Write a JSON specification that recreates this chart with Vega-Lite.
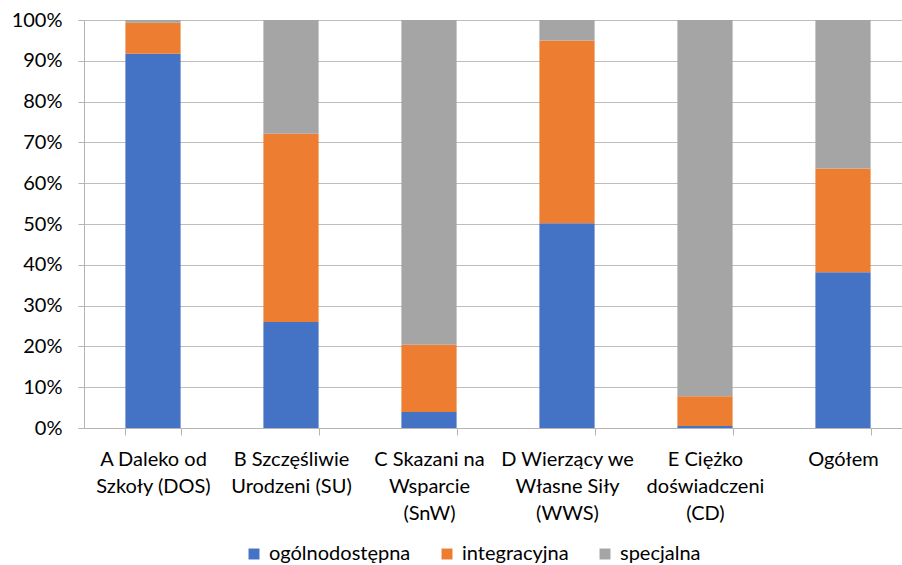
{
  "$schema": "https://vega.github.io/schema/vega-lite/v6.json",
  "autosize": "none",
  "padding": {"left": 84, "top": 20, "right": 0, "bottom": 137},
  "width": 828,
  "height": 408,
  "background": "white",
  "config": {
    "font": "Lato",
    "view": {"stroke": null},
    "axis": {"labelFont": "Lato", "labelColor": "#000000", "titleFont": "Lato"},
    "legend": {"labelFont": "Lato"}
  },
  "data": {
    "values": [
      {"grupa": "A Daleko od Szkoły (DOS)", "typ": "ogólnodostępna", "udzial": 91.7},
      {"grupa": "A Daleko od Szkoły (DOS)", "typ": "integracyjna", "udzial": 7.6},
      {"grupa": "A Daleko od Szkoły (DOS)", "typ": "specjalna", "udzial": 0.7},
      {"grupa": "B Szczęśliwie Urodzeni (SU)", "typ": "ogólnodostępna", "udzial": 26.0},
      {"grupa": "B Szczęśliwie Urodzeni (SU)", "typ": "integracyjna", "udzial": 46.1},
      {"grupa": "B Szczęśliwie Urodzeni (SU)", "typ": "specjalna", "udzial": 27.9},
      {"grupa": "C Skazani na Wsparcie (SnW)", "typ": "ogólnodostępna", "udzial": 3.9},
      {"grupa": "C Skazani na Wsparcie (SnW)", "typ": "integracyjna", "udzial": 16.5},
      {"grupa": "C Skazani na Wsparcie (SnW)", "typ": "specjalna", "udzial": 79.6},
      {"grupa": "D Wierzący we Własne Siły (WWS)", "typ": "ogólnodostępna", "udzial": 50.2},
      {"grupa": "D Wierzący we Własne Siły (WWS)", "typ": "integracyjna", "udzial": 44.8},
      {"grupa": "D Wierzący we Własne Siły (WWS)", "typ": "specjalna", "udzial": 5.0},
      {"grupa": "E Ciężko doświadczeni (CD)", "typ": "ogólnodostępna", "udzial": 0.5},
      {"grupa": "E Ciężko doświadczeni (CD)", "typ": "integracyjna", "udzial": 7.3},
      {"grupa": "E Ciężko doświadczeni (CD)", "typ": "specjalna", "udzial": 92.2},
      {"grupa": "Ogółem", "typ": "ogólnodostępna", "udzial": 38.2},
      {"grupa": "Ogółem", "typ": "integracyjna", "udzial": 25.4},
      {"grupa": "Ogółem", "typ": "specjalna", "udzial": 36.4}
    ]
  },
  "transform": [
    {"calculate": "indexof(['ogólnodostępna', 'integracyjna', 'specjalna'], datum.typ)", "as": "kolejnosc"}
  ],
  "mark": {"type": "bar"},
  "encoding": {
    "x": {
      "field": "grupa",
      "type": "nominal",
      "sort": null,
      "scale": {"paddingInner": 0.6, "paddingOuter": 0.3},
      "axis": {
        "title": null,
        "labelAngle": 0,
        "labelFontSize": 20,
        "labelLineHeight": 27,
        "labelBaseline": "top",
        "labelPadding": 14,
        "labelLimit": 0,
        "labelOverlap": false,
        "tickBand": "extent",
        "tickSize": 7,
        "tickColor": "#b4b4b4",
        "domainColor": "#b4b4b4",
        "grid": false,
        "labelExpr": "datum.value == 'A Daleko od Szkoły (DOS)' ? ['A Daleko od', 'Szkoły (DOS)'] : datum.value == 'B Szczęśliwie Urodzeni (SU)' ? ['B Szczęśliwie', 'Urodzeni (SU)'] : datum.value == 'C Skazani na Wsparcie (SnW)' ? ['C Skazani na', 'Wsparcie', '(SnW)'] : datum.value == 'D Wierzący we Własne Siły (WWS)' ? ['D Wierzący we', 'Własne Siły', '(WWS)'] : datum.value == 'E Ciężko doświadczeni (CD)' ? ['E Ciężko', 'doświadczeni', '(CD)'] : datum.value"
      }
    },
    "y": {
      "field": "udzial",
      "type": "quantitative",
      "stack": "normalize",
      "scale": {"domain": [0, 1], "nice": false},
      "axis": {
        "title": null,
        "format": ".0%",
        "values": [0, 0.1, 0.2, 0.3, 0.4, 0.5, 0.6, 0.7, 0.8, 0.9, 1],
        "labelOverlap": false,
        "labelFontSize": 20,
        "labelPadding": 16,
        "tickSize": 6,
        "tickColor": "#b4b4b4",
        "domainColor": "#b4b4b4",
        "gridColor": "#bdbdbd",
        "grid": true
      }
    },
    "order": {"field": "kolejnosc", "type": "quantitative", "sort": "ascending"},
    "color": {
      "field": "typ",
      "type": "nominal",
      "sort": ["ogólnodostępna", "integracyjna", "specjalna"],
      "scale": {
        "domain": ["ogólnodostępna", "integracyjna", "specjalna"],
        "range": ["#4472C4", "#ED7D31", "#A5A5A5"]
      },
      "legend": {
        "title": null,
        "orient": "none",
        "direction": "horizontal",
        "legendX": 160,
        "legendY": 524,
        "symbolType": "square",
        "symbolSize": 120,
        "symbolStrokeWidth": 0,
        "labelFontSize": 20,
        "labelOffset": 5,
        "columnPadding": 26,
        "padding": 0
      }
    }
  }
}
